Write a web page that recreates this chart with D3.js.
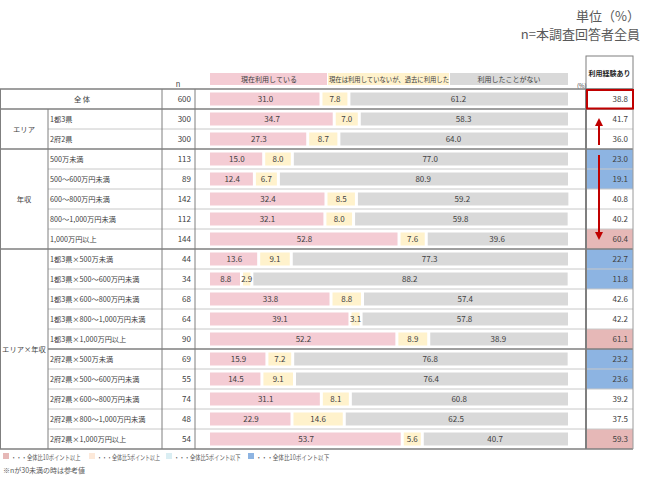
<!DOCTYPE html>
<html><head><meta charset="utf-8">
<script src="https://cdn.jsdelivr.net/npm/d3@7"></script>
<style>
body{margin:0;background:#fff;}
text{font-family:"Noto Sans CJK JP","Noto Sans",sans-serif;}
</style></head>
<body><svg id="c" width="650" height="480"></svg>
<script>
const groups = [
  {name:"全 体", start:0, count:1},
  {name:"エリア", start:1, count:2},
  {name:"年収", start:3, count:5},
  {name:"エリア×年収", start:8, count:10}
];
const labels = ["","1都3県","2府2県","500万未満","500～600万円未満","600～800万円未満","800～1,000万円未満","1,000万円以上",
 "1都3県×500万未満","1都3県×500～600万円未満","1都3県×600～800万円未満","1都3県×800～1,000万円未満","1都3県×1,000万円以上",
 "2府2県×500万未満","2府2県×500～600万円未満","2府2県×600～800万円未満","2府2県×800～1,000万円未満","2府2県×1,000万円以上"];
const nValues = [600,300,300,113,89,142,112,144,44,34,68,64,90,69,55,74,48,54];
const current = [31.0,34.7,27.3,15.0,12.4,32.4,32.1,52.8,13.6,8.8,33.8,39.1,52.2,15.9,14.5,31.1,22.9,53.7];
const past    = [7.8,7.0,8.7,8.0,6.7,8.5,8.0,7.6,9.1,2.9,8.8,3.1,8.9,7.2,9.1,8.1,14.6,5.6];
const never   = [61.2,58.3,64.0,77.0,80.9,59.2,59.8,39.6,77.3,88.2,57.4,57.8,38.9,76.8,76.4,60.8,62.5,40.7];
const experienced = [38.8,41.7,36.0,23.0,19.1,40.8,40.2,60.4,22.7,11.8,42.6,42.2,61.1,23.2,23.6,39.2,37.5,59.3];
const seriesNames = ["現在利用している","現在は利用していないが、過去に利用した","利用したことがない"];
const seriesColors = ["#f4ccd4","#fff2cc","#d9d9d9"];
const legendNotes = ["・・・全体比10ポイント以上","・・・全体比5ポイント以上","・・・全体比5ポイント以下","・・・全体比10ポイント以下"];
const noteColors = ["#e6b8b7","#fde9d9","#daeef3","#8db4e2"];

const svg = d3.select("#c");
const nRows = labels.length;
const rowTop = 89, rowH = 20;
const y = d3.scaleBand().domain(d3.range(nRows)).range([rowTop, rowTop+rowH*nRows]).paddingInner(0).paddingOuter(0);
const x = d3.scaleLinear().domain([0,100]).range([210,568]);
const colR0 = 586, colR1 = 633;
const txt = "#404040";

// top-right text
svg.append("text").attr("x",640).attr("y",21).attr("text-anchor","end").attr("font-size",13).attr("fill","#595959").text("単位（%）");
svg.append("text").attr("x",640).attr("y",39).attr("text-anchor","end").attr("font-size",13).attr("fill","#595959").text("n=本調査回答者全員");

// right column fills
const base = experienced[0];
function cellColor(v,i){
  if(i===0) return "#fff";
  const d = v-base;
  if(d>=10) return noteColors[0];
  if(d>=5) return noteColors[1];
  if(d<=-10) return noteColors[3];
  if(d<=-5) return noteColors[2];
  return "#fff";
}
svg.append("g").selectAll("rect").data(experienced).join("rect")
  .attr("x",colR0).attr("y",(d,i)=>y(i)).attr("width",colR1-colR0).attr("height",rowH)
  .attr("fill",(d,i)=>cellColor(d,i));

// header box
svg.append("rect").attr("x",colR0).attr("y",56).attr("width",colR1-colR0).attr("height",rowTop-56)
  .attr("fill","#fff").attr("stroke","#7f7f7f").attr("stroke-width",1);
svg.append("text").attr("x",(colR0+colR1)/2).attr("y",76).attr("text-anchor","middle").attr("font-size",7)
  .attr("font-weight","bold").attr("fill","#262626").text("利用経験あり");

// legend header
const legX = [[210,328],[328,450],[450,568]];
legX.forEach((r,i)=>{
  svg.append("rect").attr("x",r[0]).attr("y",73).attr("width",r[1]-r[0]-(i<2?1:0)).attr("height",12).attr("fill",seriesColors[i]);
  const t = svg.append("text").attr("x",(r[0]+r[1])/2).attr("y",82).attr("text-anchor","middle").attr("font-size",7).attr("fill",txt).text(seriesNames[i]);
  if(i===1) t.attr("textLength",120).attr("lengthAdjust","spacingAndGlyphs");
});
svg.append("text").attr("x",577).attr("y",88).attr("font-size",6).attr("fill",txt).text("(%)");
svg.append("text").attr("x",178).attr("y",87).attr("text-anchor","middle").attr("font-size",7.5).attr("fill",txt).text("n");

// bars
const table = d3.range(nRows).map(i=>({i, a:current[i], b:past[i], c:never[i]}));
const stack = d3.stack().keys(["a","b","c"])(table);
const bh = 13;
const gBars = svg.append("g");
stack.forEach((layer,k)=>{
  gBars.selectAll(null).data(layer).join("rect")
    .attr("x",d=>x(d[0])+(k>0?1.5:0)).attr("y",d=>y(d.data.i)+(rowH-bh)/2)
    .attr("width",d=>Math.max(0,x(d[1])-x(d[0])-(k>0?1.5:0)-(k<2?1.5:0)))
    .attr("height",bh).attr("fill",seriesColors[k]);
  gBars.selectAll(null).data(layer).join("text")
    .attr("x",d=>(x(d[0])+x(d[1]))/2).attr("y",d=>y(d.data.i)+rowH/2+3)
    .attr("text-anchor","middle").attr("font-size",8).attr("fill",txt)
    .text(d=>(d[1]-d[0]).toFixed(1));
});

// horizontal lines
const gl = svg.append("g");
for(let i=1;i<nRows;i++){
  const isGroup = groups.some(g=>g.start===i);
  if(isGroup) continue;
  const thick = (i===13);
  gl.append("line").attr("x1",48).attr("x2",colR1).attr("y1",y(i)).attr("y2",y(i))
    .attr("stroke",thick?"#7f7f7f":"#c8c8c8").attr("stroke-width",thick?1.5:1);
}
groups.forEach(g=>{
  gl.append("line").attr("x1",0).attr("x2",colR1).attr("y1",y(g.start)).attr("y2",y(g.start))
    .attr("stroke","#7f7f7f").attr("stroke-width",1.5);
});
gl.append("line").attr("x1",0).attr("x2",colR1).attr("y1",y(nRows-1)+rowH).attr("y2",y(nRows-1)+rowH)
  .attr("stroke","#7f7f7f").attr("stroke-width",1.5);
// vertical lines
const yb = y(nRows-1)+rowH;
gl.append("line").attr("x1",0.5).attr("x2",0.5).attr("y1",rowTop).attr("y2",yb).attr("stroke","#7f7f7f");
gl.append("line").attr("x1",48).attr("x2",48).attr("y1",y(1)).attr("y2",yb).attr("stroke","#7f7f7f");
gl.append("line").attr("x1",162).attr("x2",162).attr("y1",rowTop).attr("y2",yb).attr("stroke","#7f7f7f");
gl.append("line").attr("x1",195).attr("x2",195).attr("y1",rowTop).attr("y2",yb).attr("stroke","#7f7f7f");
gl.append("line").attr("x1",colR0).attr("x2",colR0).attr("y1",rowTop).attr("y2",yb).attr("stroke","#7f7f7f").attr("stroke-width",2);
gl.append("line").attr("x1",colR1).attr("x2",colR1).attr("y1",rowTop).attr("y2",yb).attr("stroke","#9a9a9a");

// group labels
groups.forEach(g=>{
  const cy = y(g.start)+g.count*rowH/2+3;
  svg.append("text").attr("x",g.count===1?82:24).attr("y",cy).attr("text-anchor","middle")
    .attr("font-size",7.3).attr("fill",txt).text(g.name);
});
// sub labels
svg.append("g").selectAll("text").data(labels).join("text")
  .attr("x",50).attr("y",(d,i)=>y(i)+rowH/2+3).attr("font-size",7.2).attr("fill",txt).text(d=>d);
// n
svg.append("g").selectAll("text").data(nValues).join("text")
  .attr("x",191).attr("y",(d,i)=>y(i)+rowH/2+3).attr("text-anchor","end").attr("font-size",8).attr("fill",txt).text(d=>d);
// experienced values
svg.append("g").selectAll("text").data(experienced).join("text")
  .attr("x",628).attr("y",(d,i)=>y(i)+rowH/2+3).attr("text-anchor","end").attr("font-size",8).attr("fill",txt).text(d=>d.toFixed(1));

// red box
svg.append("rect").attr("x",colR0+1).attr("y",y(0)+1).attr("width",colR1-colR0-1).attr("height",rowH-1.5)
  .attr("fill","none").attr("stroke","#c00000").attr("stroke-width",2);

// arrows
const defs = svg.append("defs");
defs.append("marker").attr("id","ah").attr("viewBox","0 0 10 10").attr("refX",5).attr("refY",5)
  .attr("markerWidth",4).attr("markerHeight",4).attr("orient","auto")
  .append("path").attr("d","M0,0L10,5L0,10Z").attr("fill","#c00000");
const ax = 599;
svg.append("line").attr("x1",ax).attr("x2",ax).attr("y1",y(2)+rowH/2+6).attr("y2",y(1)+rowH/2+3)
  .attr("stroke","#c00000").attr("stroke-width",2).attr("marker-end","url(#ah)");
svg.append("line").attr("x1",ax).attr("x2",ax).attr("y1",y(3)+6).attr("y2",y(7)+rowH/2-3)
  .attr("stroke","#c00000").attr("stroke-width",2).attr("marker-end","url(#ah)");

// footer notes
const noteX = [3,89,166,248];
const noteScale = [0.76,0.72,0.76,0.8];
legendNotes.forEach((t,i)=>{
  svg.append("rect").attr("x",noteX[i]).attr("y",453).attr("width",6).attr("height",6).attr("fill",noteColors[i]);
  svg.append("g").attr("transform",`translate(${noteX[i]+8},459.5) scale(${noteScale[i]},1)`)
    .append("text").attr("x",0).attr("y",0).attr("font-size",7).attr("fill","#595959").text(t);
});
svg.append("text").attr("x",3).attr("y",473).attr("font-size",7).attr("fill","#595959").text("※nが30未満の時は参考値");
</script></body></html>
